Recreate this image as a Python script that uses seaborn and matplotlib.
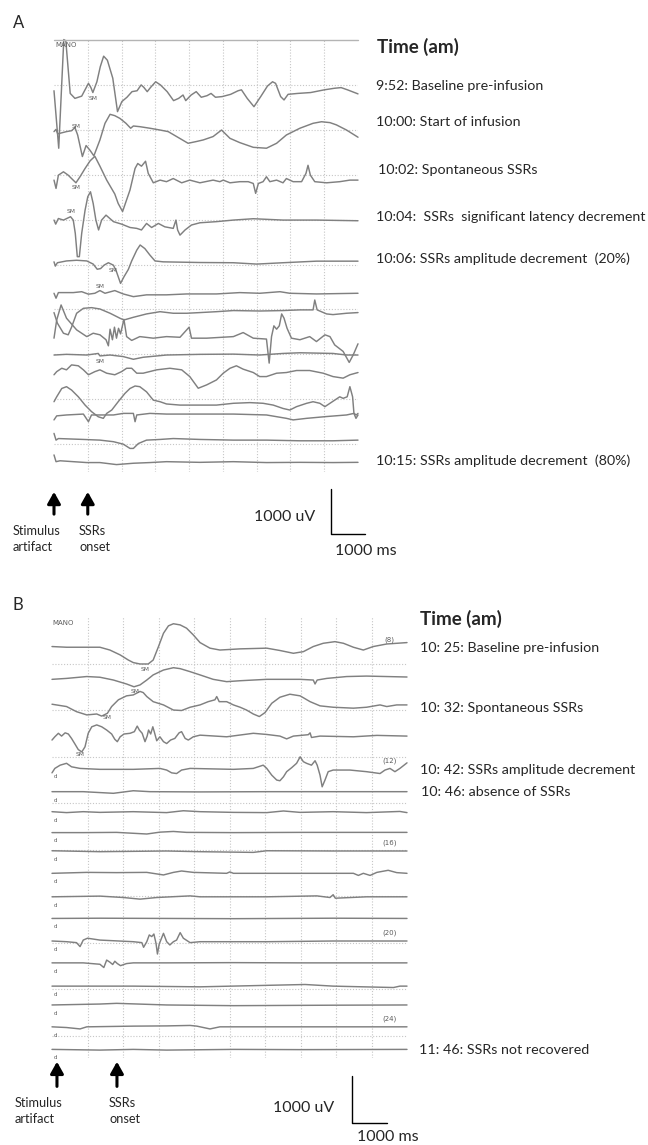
import numpy as np
import pandas as pd
import seaborn as sns
import matplotlib.pyplot as plt

W, H = 648, 1145

# ---------------- panel A: (time s, amplitude uV) per sweep ----------------
A1 = [(0.0, 20), (0.14, -1260), (0.29, 1160), (0.35, 1130), (0.48, -40), (0.62, -150), (0.82, -100),
      (1.02, 185), (1.09, 95), (1.15, -20), (1.27, 220), (1.37, 555), (1.47, 790), (1.58, 700),
      (1.74, 300), (1.88, -445), (2.01, -220), (2.16, -125), (2.31, 0), (2.46, 20), (2.58, 150),
      (2.66, 95), (2.76, 0), (2.86, 95), (3.01, 220), (3.15, 150), (3.35, 0), (3.54, -200),
      (3.69, -150), (3.82, -75), (3.90, -200), (4.06, -75), (4.21, 0), (4.36, -125), (4.53, -90),
      (4.65, -40), (4.78, -125), (4.98, -110), (5.23, -60), (5.45, 20), (5.55, 40), (5.72, -150),
      (5.92, -335), (6.12, -110), (6.32, 125), (6.47, 220), (6.56, 185), (6.71, -110), (6.81, -185),
      (6.93, -60), (7.21, -40), (7.60, -20), (8.00, 40), (8.30, 75), (8.50, 90), (8.69, 40), (9.0, -50)]
A2 = [(0.0, 0), (0.06, 50), (0.11, -50), (0.37, 0), (0.52, 20), (0.62, 90), (0.70, -75), (0.84, -555),
      (0.95, -310), (1.07, -420), (1.18, -540), (1.36, -185), (1.51, 185), (1.66, 385), (1.80, 355),
      (1.95, 295), (2.13, 185), (2.27, 75), (2.35, 125), (2.54, 110), (2.84, 75), (3.14, 35),
      (3.38, 0), (3.63, -110), (3.97, -260), (4.22, -220), (4.42, -185), (4.71, -110), (4.96, 35),
      (5.21, -150), (5.50, -245), (5.90, -350), (6.29, -370), (6.59, -260), (6.88, -75), (7.28, 75),
      (7.67, 185), (7.92, 220), (8.17, 200), (8.36, 150), (8.66, 35), (9.0, -125)]
A3 = [(0.0, 0), (0.06, -185), (0.13, 110), (0.28, 185), (0.42, 110), (0.52, 35), (0.65, -60),
      (0.77, 75), (0.92, 260), (1.07, 430), (1.21, 530), (1.36, 310), (1.56, 0), (1.80, -310),
      (1.90, -520), (2.03, -700), (2.25, -220), (2.40, 260), (2.48, 370), (2.59, 310), (2.71, 420),
      (2.79, 150), (2.94, -60), (3.14, 0), (3.33, -35), (3.53, 35), (3.78, -60), (4.02, 0),
      (4.32, -60), (4.71, 0), (4.91, -35), (5.01, 0), (5.21, -60), (5.50, -35), (5.75, -35),
      (5.90, -75), (5.97, -295), (6.05, -75), (6.19, -35), (6.29, 75), (6.39, -35), (6.59, 0),
      (6.78, -60), (6.88, 35), (7.08, -35), (7.33, -35), (7.46, 150), (7.52, 330), (7.59, 110),
      (7.72, -35), (8.07, -60), (8.46, -35), (8.76, 0), (9.0, 0)]
A4 = [(0.0, 0), (0.05, -90), (0.13, 35), (0.28, 0), (0.49, 75), (0.57, 0), (0.63, -295), (0.69, -815),
      (0.75, -815), (0.82, -295), (0.92, 220), (1.0, 520), (1.08, 630), (1.16, 370), (1.24, 0),
      (1.32, -220), (1.41, 0), (1.54, 110), (1.76, -35), (2.0, -90), (2.25, -165), (2.45, -185),
      (2.59, -220), (2.74, -75), (2.89, -165), (3.09, -75), (3.28, -150), (3.53, -185), (3.61, 0),
      (3.66, -220), (3.73, -335), (3.88, -220), (4.07, -110), (4.32, -60), (4.81, -35), (5.31, 0),
      (5.90, 30), (6.78, 0), (7.77, 0), (9.0, -15)]
A5 = [(0.0, 0), (0.04, -95), (0.10, -20), (0.37, 20), (0.67, 35), (0.97, 20), (1.16, -50), (1.28, -165),
      (1.38, -150), (1.48, -75), (1.61, -20), (1.76, -75), (1.85, -220), (1.97, -480), (2.07, -335),
      (2.20, -170), (2.30, 20), (2.45, 260), (2.55, 375), (2.69, 295), (2.84, 150), (2.99, 20),
      (3.23, 0), (4.32, -15), (5.31, -20), (6.0, -50), (6.78, -20), (7.77, 15), (9.0, 15)]
A6 = [(0.0, 0), (0.06, -110), (0.13, 15), (0.57, 15), (0.82, 35), (1.02, -20), (1.21, 0), (1.36, 60),
      (1.51, 0), (1.80, 60), (2.05, -15), (2.35, -75), (2.74, -35), (3.33, -35), (3.93, -15),
      (4.81, -15), (5.50, 15), (6.09, 0), (6.69, 35), (6.98, 0), (7.77, -15), (9.0, 0)]
A7 = [(0.0, 0), (0.10, -235), (0.28, -460), (0.42, -495), (0.52, -325), (0.67, -15), (0.87, 95),
      (1.11, 110), (1.36, 80), (1.66, -15), (1.95, -125), (2.07, -165), (2.35, -105), (2.74, -30),
      (3.14, 20), (3.53, -15), (3.93, -15), (4.32, 0), (4.81, 20), (5.31, 45), (6.09, 35), (6.78, 45),
      (7.28, 60), (7.67, 60), (7.72, 280), (7.79, 60), (8.07, -30), (8.26, -45), (8.66, -15), (9.0, 0)]
A8 = [(0.0, 0), (0.08, 405), (0.21, 740), (0.37, 445), (0.67, 185), (0.97, 35), (1.16, 110), (1.36, 75),
      (1.54, -35), (1.61, -170), (1.66, 200), (1.73, -35), (1.79, 245), (1.85, 0), (1.91, 220),
      (1.97, 95), (2.07, 420), (2.15, 35), (2.30, -50), (2.54, 35), (2.94, 0), (3.33, 35), (3.73, 20),
      (4.0, 245), (4.07, 0), (4.52, 0), (5.31, 35), (5.60, 125), (5.90, 0), (6.29, -20), (6.37, -555),
      (6.44, 35), (6.51, 275), (6.59, 200), (6.67, 275), (6.74, 540), (6.81, 445), (6.90, 220),
      (7.03, 0), (7.28, -35), (7.57, 35), (7.77, -75), (8.02, 75), (8.17, 35), (8.31, -150),
      (8.56, -295), (8.74, -540), (8.86, -370), (9.0, -125)]
A9 = [(0.0, 0), (0.37, 15), (0.97, 0), (1.31, 35), (1.36, -20), (1.66, 0), (2.05, -35), (2.35, -95),
      (2.64, -50), (3.33, 0), (4.32, 15), (5.31, 20), (6.09, 0), (6.78, 35), (7.28, 50), (8.26, 35),
      (8.66, 0), (9.0, 0)]
A10 = [(0.0, -35), (0.08, 35), (0.23, 110), (0.37, 75), (0.52, 185), (0.72, 165), (0.87, 75),
       (1.02, -35), (1.21, 35), (1.36, 75), (1.56, 0), (1.80, -35), (2.0, 35), (2.15, 110), (2.30, 110),
       (2.45, 0), (2.64, 0), (3.04, 75), (3.43, 110), (3.78, 75), (4.02, -75), (4.27, -335),
       (4.52, -260), (4.81, -150), (5.01, 0), (5.21, 110), (5.40, 165), (5.60, 90), (5.90, 15),
       (6.09, -75), (6.29, -75), (6.59, 0), (6.88, 15), (7.18, 60), (7.57, 60), (7.97, 0), (8.26, -75),
       (8.56, -110), (8.76, -35), (9.0, 15)]
A11 = [(0.0, 0), (0.08, 110), (0.23, 295), (0.37, 335), (0.52, 260), (0.72, 110), (0.92, -75),
       (1.11, -220), (1.31, -335), (1.46, -370), (1.56, -260), (1.71, -185), (1.90, 0), (2.10, 185),
       (2.25, 295), (2.40, 350), (2.54, 335), (2.74, 220), (2.94, 35), (3.14, 0), (3.33, -50),
       (3.73, -75), (4.32, -75), (4.81, -75), (5.31, -35), (5.80, -20), (6.19, -35), (6.49, -75),
       (6.78, -150), (6.98, -185), (7.18, -110), (7.48, -35), (7.67, 0), (7.87, -35), (8.02, -110),
       (8.17, -35), (8.31, 35), (8.46, 110), (8.56, 75), (8.68, 110), (8.76, 335), (8.84, 110),
       (8.88, -260), (8.95, -295), (9.0, -260)]
A12 = [(0.0, -110), (0.08, -20), (0.37, 0), (0.87, 20), (1.02, -150), (1.11, 0), (1.36, 0), (1.76, 0),
       (2.05, 35), (2.35, 35), (2.40, -150), (2.45, 0), (2.84, 35), (3.33, 20), (4.32, 20), (5.31, 20),
       (6.29, 0), (6.88, -75), (7.08, -110), (7.48, -75), (8.07, -35), (8.66, 0), (8.88, 35),
       (8.94, -75), (9.0, 0)]
A13 = [(0.0, 150), (0.06, 0), (0.13, 35), (0.87, 15), (1.36, 0), (1.76, -35), (2.05, -90), (2.25, -185),
       (2.35, -185), (2.50, -75), (2.74, 0), (3.14, 15), (3.53, 35), (4.32, 15), (5.31, 0), (6.29, 0),
       (7.28, -15), (8.26, -15), (9.0, 0)]
A14 = [(0.0, 150), (0.06, 0), (0.18, 20), (0.57, 0), (0.97, -20), (1.36, -20), (1.85, -65), (2.35, -35),
       (2.84, -20), (3.33, 0), (4.32, -15), (5.31, 0), (6.29, -20), (7.28, -15), (8.26, -20), (9.0, -15)]

# ---------------- panel B ----------------
B1 = [(0.0, 15), (0.41, 0), (1.35, 0), (1.63, -60), (1.92, -165), (2.15, -275), (2.29, -330),
      (2.48, -360), (2.71, -360), (2.85, -275), (3.0, 15), (3.14, 300), (3.28, 460), (3.42, 505),
      (3.61, 480), (3.79, 410), (3.98, 265), (4.17, 100), (4.45, -20), (4.73, -60), (5.30, -35),
      (6.05, -20), (6.42, -70), (6.80, -130), (7.08, -95), (7.36, 15), (7.64, 85), (7.97, 120),
      (8.21, 85), (8.49, 0), (8.77, -60), (9.05, 15), (9.43, 70), (10.0, 100)]
B2 = [(0.0, 0), (0.41, 20), (0.98, 60), (1.35, 45), (1.73, -15), (2.10, -100), (2.31, -160),
      (2.48, -120), (2.67, -15), (2.85, 95), (3.14, 200), (3.42, 250), (3.61, 230), (3.89, 165),
      (4.17, 95), (4.54, 0), (4.92, -50), (5.30, -30), (6.05, 0), (6.99, 0), (7.36, -15), (7.41, -100),
      (7.47, -15), (7.74, 20), (8.30, 60), (8.86, 70), (9.43, 60), (10.0, 50)]
B3 = [(0.0, 15), (0.41, -35), (0.69, -145), (0.98, -215), (1.26, -195), (1.40, -240), (1.56, -180),
      (1.68, -35), (1.87, 110), (2.10, 195), (2.29, 215), (2.48, 290), (2.57, 265), (2.67, 180),
      (2.85, 70), (3.14, 0), (3.42, -110), (3.65, -120), (3.89, -50), (4.17, 0), (4.40, 70),
      (4.59, 110), (4.64, 180), (4.71, 70), (4.92, 70), (5.11, 0), (5.30, -50), (5.48, -110),
      (5.67, -195), (5.84, -250), (6.0, -165), (6.19, 35), (6.42, 165), (6.70, 230), (6.99, 195),
      (7.27, 70), (7.55, -20), (7.92, -50), (8.49, -70), (8.86, -50), (9.24, 0), (9.43, -35),
      (9.71, 0), (10.0, 0)]
B4 = [(0.0, -85), (0.08, -15), (0.18, 60), (0.27, 0), (0.37, 70), (0.46, 45), (0.55, -50), (0.65, -175),
      (0.74, -290), (0.84, -340), (0.93, -230), (1.02, 60), (1.12, 200), (1.26, 240), (1.40, 200),
      (1.54, 130), (1.68, 45), (1.77, -70), (1.84, -120), (1.92, -15), (2.03, 45), (2.20, 60),
      (2.32, 95), (2.40, 215), (2.46, 130), (2.54, 60), (2.62, -120), (2.68, 0), (2.72, 130),
      (2.78, 45), (2.84, 200), (2.88, 95), (2.95, -100), (3.04, -15), (3.14, -120), (3.23, -160),
      (3.34, -85), (3.46, -50), (3.58, 70), (3.65, 95), (3.75, -50), (3.84, -85), (3.98, -15),
      (4.17, 20), (4.92, -15), (5.67, 60), (6.05, 35), (6.42, 0), (6.61, -60), (6.80, 0), (7.22, 30),
      (7.27, 70), (7.31, -30), (7.55, 0), (8.49, -15), (9.15, 15), (10.0, 0)]
B5 = [(0.0, -95), (0.08, 0), (0.23, 70), (0.41, 110), (0.55, 35), (0.79, 0), (1.35, -20), (2.29, -20),
      (3.04, 0), (3.23, -35), (3.37, -95), (3.51, -110), (3.65, -35), (3.89, 0), (5.11, -20), (5.67, 0),
      (5.95, 70), (6.05, 0), (6.19, -145), (6.33, -250), (6.42, -265), (6.52, -180), (6.61, -70),
      (6.75, 15), (6.89, 110), (6.99, 250), (7.08, 145), (7.17, 110), (7.31, 70), (7.41, 165),
      (7.47, 70), (7.55, -145), (7.61, -395), (7.69, -250), (7.78, -70), (7.92, -35), (8.39, -35),
      (8.86, -70), (9.24, -110), (9.38, -35), (9.52, 0), (9.66, -70), (9.80, 0), (10.0, 120)]
B6 = [(0.0, 0), (0.88, 0), (1.73, -35), (2.29, 20), (2.76, 0), (4.17, -5), (6.05, 0), (7.92, 0), (10.0, 0)]
B7 = [(0.0, 0), (0.41, -20), (0.88, 0), (1.35, -15), (2.29, 0), (3.23, -20), (3.70, 20), (4.17, 0),
      (5.11, -15), (6.05, -20), (6.52, 15), (6.99, -15), (7.92, 0), (8.86, -20), (9.80, 5), (10.0, -20)]
B8 = [(0.0, -5), (0.88, -5), (1.82, 0), (2.67, -35), (3.04, 5), (3.42, 20), (3.79, 0), (5.11, -5),
      (6.99, 0), (10.0, 0)]
B9 = [(0.0, 5), (1.35, -15), (3.23, 0), (4.17, -15), (5.67, -30), (6.05, 5), (7.92, 0), (10.0, 0)]
B10 = [(0.0, 0), (0.98, 20), (1.82, 15), (2.67, 20), (3.14, -35), (3.42, 20), (3.65, 50), (3.98, 20),
       (4.92, 0), (5.01, 30), (5.11, 0), (6.05, 0), (7.92, 0), (8.49, 0), (8.63, -45), (8.77, 0),
       (8.96, -45), (9.15, 20), (9.47, 65), (9.71, 15), (10.0, 0)]
B11 = [(0.0, 0), (1.35, 15), (2.01, -15), (2.48, -50), (2.95, -15), (3.89, 20), (4.17, 0), (6.05, 0),
       (7.46, 20), (7.83, -15), (7.92, 45), (7.98, -30), (8.86, 0), (10.0, 0)]
B12 = [(0.0, 0), (1.35, 5), (3.23, 0), (5.11, -5), (7.92, 5), (10.0, 0)]
B13 = [(0.0, 0), (0.41, -15), (0.69, -35), (0.79, -120), (0.88, 20), (1.0, 60), (1.35, 20), (2.29, -15),
       (2.53, -35), (2.58, -135), (2.67, -15), (2.74, 130), (2.81, 95), (2.87, 150), (2.93, -50),
       (2.97, -280), (3.02, -65), (3.14, 165), (3.23, -15), (3.32, -85), (3.42, -15), (3.51, 20),
       (3.61, 180), (3.70, 60), (3.89, -35), (4.17, -15), (6.05, -15), (7.92, 0), (10.0, 0)]
B14 = [(0.0, 0), (0.88, 0), (1.35, -30), (1.46, -100), (1.54, 60), (1.63, 15), (1.71, -35), (1.77, 35),
       (1.84, -15), (1.93, -60), (2.10, -15), (2.29, 0), (3.23, 0), (5.11, 5), (6.99, 0), (10.0, 0)]
B15 = [(0.0, 0), (2.29, 0), (4.17, -15), (7.13, 35), (7.92, 0), (9.62, -30), (9.80, 0), (10.0, 0)]
B16 = [(0.0, 0), (1.35, 20), (1.82, 35), (3.23, 0), (5.11, -15), (7.92, -5), (10.0, 0)]
B17 = [(0.0, 0), (0.41, -15), (0.79, -45), (0.98, 0), (2.29, 15), (3.23, 20), (3.89, 30), (4.08, 15),
       (4.45, -45), (4.73, 0), (6.05, 0), (7.92, 0), (10.0, 0)]
B18 = [(0.0, 0), (1.35, -15), (2.29, 0), (3.23, -15), (5.11, 0), (6.99, -5), (10.0, 0)]

A_TRACES = [A1, A2, A3, A4, A5, A6, A7, A8, A9, A10, A11, A12, A13, A14]
B_TRACES = [B1, B2, B3, B4, B5, B6, B7, B8, B9, B10, B11, B12, B13, B14, B15, B16, B17, B18]

A_NOTES = ["9:52: Baseline pre-infusion", "10:00: Start of infusion", "10:02: Spontaneous SSRs",
           "10:04:  SSRs  significant latency decrement", "10:06: SSRs amplitude decrement  (20%)",
           "10:15: SSRs amplitude decrement  (80%)"]
B_NOTES = ["10: 25: Baseline pre-infusion", "10: 32: Spontaneous SSRs", "10: 42: SSRs amplitude decrement",
           "10: 46: absence of SSRs", "11: 46: SSRs not recovered"]
CHANNELS = ["(8)", "(12)", "(16)", "(20)", "(24)"]

# ---------------- layout (pixels / uV offsets) ----------------
A_OFFSETS = [-1150, -2040, -3120, -4010, -4940, -5640, -6070, -6640, -7015, -7420, -8055, -8350, -8910, -9390]
B_OFFSETS = [-650, -1340, -1890, -2560, -3255, -3755, -4185, -4630, -5030, -5510, -6015, -6480, -6965,
             -7435, -7935, -8340, -8810, -9295]
A_NOTE_XY = [(376, 86), (376, 122), (378, 170), (376, 217), (376, 259), (376, 461)]
B_NOTE_XY = [(420, 648), (420, 708), (420, 770), (421, 792), (419, 1050)]

TRACE = "#808080"
GRID = "#c6c6c6"

sns.set_style("white")
plt.rcParams["font.family"] = ["Lato", "DejaVu Sans"]


def to_frame(traces, offsets):
    rows = []
    for k, (pts, off) in enumerate(zip(traces, offsets)):
        for t, uv in pts:
            rows.append({"trace": k, "t": t, "v": uv + off})
    return pd.DataFrame(rows)


def fxy(x, y):
    return x / W, 1 - y / H


fig = plt.figure(figsize=(W / 100, H / 100), dpi=100)


def panel(box, xmax, ymin, df):
    l, t, r, b = box
    ax = fig.add_axes([l / W, 1 - b / H, (r - l) / W, (b - t) / H])
    sns.lineplot(data=df, x="t", y="v", units="trace", estimator=None, sort=False,
                 color=TRACE, lw=1.05, legend=False, ax=ax, clip_on=False)
    ax.set_xlim(0, xmax)
    ax.set_ylim(ymin, 0)
    ax.set_xticks(np.arange(1, xmax))
    ax.set_yticks(np.arange(-9000, 0, 1000))
    ax.grid(True, color=GRID, lw=0.8, ls=(0, (1, 1.6)))
    ax.tick_params(length=0, labelbottom=False, labelleft=False)
    for s in ax.spines.values():
        s.set_visible(False)
    ax.set_xlabel("")
    ax.set_ylabel("")
    ax.set_facecolor("none")
    return ax


axA = panel((54, 40, 358, 472), 9, -9620, to_frame(A_TRACES, A_OFFSETS))
axA.axhline(0, color="#b4b4b4", lw=1.0, clip_on=False)
axB = panel((52, 617, 407, 1058), 10, -9480, to_frame(B_TRACES, B_OFFSETS))

small = dict(family="DejaVu Sans", color="#5c5c5c")

# SM markers (sweep index, time, offset from sweep)
for ax, offs, marks in [(axA, A_OFFSETS, [(0, 1.15, -150), (1, 0.66, 110), (2, 0.65, -160), (3, 0.50, 200),
                                          (4, 1.76, -190), (5, 1.36, 140), (8, 1.36, -150)]),
                        (axB, B_OFFSETS, [(0, 2.62, -470), (1, 2.34, -270), (2, 1.55, -260), (3, 0.79, -390)])]:
    for k, t, dv in marks:
        ax.text(t, offs[k] + dv, "SM", fontsize=4.3, ha="center", va="center", **small)

for i, lab in enumerate(CHANNELS):
    axB.text(9.5, B_OFFSETS[i * 4] + 170, lab, fontsize=5, ha="center", va="center", **small)
for off in B_OFFSETS[4:]:
    axB.text(0.04, off - 180, "d", fontsize=4, ha="left", va="center", clip_on=False, **small)

fig.text(*fxy(55, 45), "MANO", fontsize=5, ha="left", va="center", **small)
fig.text(*fxy(52, 623), "MANO", fontsize=5, ha="left", va="center", **small)

# scale bars and arrows, in data units
arrow = dict(arrowstyle="-|>,head_length=0.5,head_width=0.28", color="black", lw=2.2, mutation_scale=14)
for ax, x0, y0, stim, onset, ya, yb in [(axA, 8.2, -11000, 0.0, 1.0, -10620, -10000),
                                        (axB, 8.45, -10870, 0.14, 1.83, -10150, -9500)]:
    ax.plot([x0, x0, x0 + 1], [y0 + 1000, y0, y0], color="black", lw=1.0, clip_on=False)
    for tx in (stim, onset):
        ax.annotate("", xy=(tx, yb), xytext=(tx, ya), arrowprops=arrow, annotation_clip=False)

# texts
fig.text(*fxy(13, 23), "A", fontsize=12, ha="left", va="center")
fig.text(*fxy(13, 605), "B", fontsize=12, ha="left", va="center")
fig.text(*fxy(377, 47), "Time (am)", fontsize=13.5, fontweight="bold", ha="left", va="center")
fig.text(*fxy(420, 619), "Time (am)", fontsize=13.5, fontweight="bold", ha="left", va="center")
for s, (x, y) in zip(A_NOTES, A_NOTE_XY):
    fig.text(*fxy(x, y), s, fontsize=10.3, ha="left", va="center")
for s, (x, y) in zip(B_NOTES, B_NOTE_XY):
    fig.text(*fxy(x, y), s, fontsize=10.3, ha="left", va="center")

for (sx, ox, y1, y2), (ux, uy), (mx, my) in [((13, 79, 531, 547), (254, 517), (335, 551)),
                                             ((15, 109, 1103, 1119), (273, 1108), (357, 1137))]:
    fig.text(*fxy(sx, y1), "Stimulus", fontsize=9.2, ha="left", va="center")
    fig.text(*fxy(sx, y2), "artifact", fontsize=9.2, ha="left", va="center")
    fig.text(*fxy(ox, y1), "SSRs", fontsize=9.2, ha="left", va="center")
    fig.text(*fxy(ox, y2), "onset", fontsize=9.2, ha="left", va="center")
    fig.text(*fxy(ux, uy), "1000 uV", fontsize=11.5, ha="left", va="center")
    fig.text(*fxy(mx, my), "1000 ms", fontsize=11.5, ha="left", va="center")

fig.savefig("out.png", dpi=100, facecolor="white")
